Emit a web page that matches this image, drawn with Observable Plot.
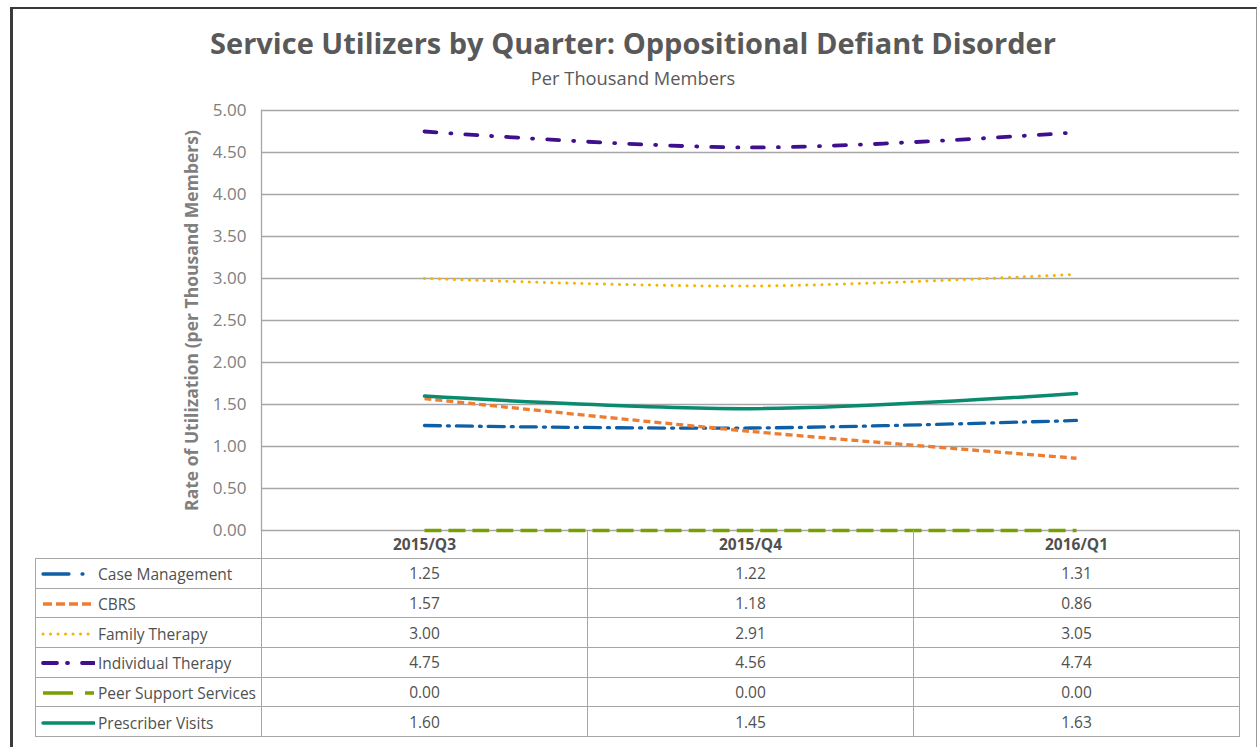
<!DOCTYPE html>
<html><head><meta charset="utf-8">
<script src="https://cdn.jsdelivr.net/npm/d3@7"></script>
<script src="https://cdn.jsdelivr.net/npm/@observablehq/plot@0.6"></script>
<style>
body{margin:0;background:#fff;font-family:"Open Sans",Lato,sans-serif;}
#page{position:relative;width:1257px;height:747px;overflow:hidden;background:#fff;}
#border{position:absolute;left:10px;top:7px;width:1243px;height:760px;border-left:3px solid #3a3a3a;border-top:2px solid #3a3a3a;border-right:1px solid #9a9a9a;}
#title{position:absolute;left:0;width:1266px;top:24px;text-align:center;font-weight:700;font-size:29px;color:#595959;line-height:38px;}
#subtitle{position:absolute;left:0;width:1266px;top:67px;text-align:center;font-size:18.3px;color:#595959;line-height:22px;}
#chart{position:absolute;left:0;top:100px;}
#tbl{position:absolute;left:35px;top:530px;border-collapse:collapse;table-layout:fixed;font-size:15.5px;color:#505050;}
#tbl td{border:1px solid #a6a6a6;padding:0;text-align:center;height:28.7px;line-height:18px;white-space:nowrap;overflow:hidden;}
#tbl tr.head td{font-weight:700;height:28px;border-top:none;}
#tbl tr.head td.blank{border:none;border-right:1px solid #a6a6a6;}
#tbl td.lab{text-align:left;padding-left:5px;}
#tbl td.lab svg{vertical-align:middle;margin-right:3px;}
#tbl td.lab span{vertical-align:middle;}
</style></head>
<body><div id="page"><div id="border"></div>
<div id="title">Service Utilizers by Quarter: Oppositional Defiant Disorder</div>
<div id="subtitle">Per Thousand Members</div>
<div id="chart"></div>
<table id="tbl"></table>
</div>
<script>
const quarters = ["2015/Q3", "2015/Q4", "2016/Q1"];
const seriesNames = ["Case Management", "CBRS", "Family Therapy", "Individual Therapy", "Peer Support Services", "Prescriber Visits"];
const caseManagement = [1.25, 1.22, 1.31];
const cbrs = [1.57, 1.18, 0.86];
const familyTherapy = [3.00, 2.91, 3.05];
const individualTherapy = [4.75, 4.56, 4.74];
const peerSupport = [0.00, 0.00, 0.00];
const prescriberVisits = [1.60, 1.45, 1.63];
const yTicks = [0, 0.5, 1, 1.5, 2, 2.5, 3, 3.5, 4, 4.5, 5];
const yLabel = "Rate of Utilization (per Thousand Members)";

const seriesValues = [caseManagement, cbrs, familyTherapy, individualTherapy, peerSupport, prescriberVisits];
const colors = ["#0f5fa6", "#ed7d31", "#f5b400", "#3f0f8e", "#7a9f00", "#0a8a6e"];
const styles = [
  {width: 3.3, dash: "16,7,2,7", cap: "round"},
  {width: 3.3, dash: "7,4", cap: "butt"},
  {width: 3, dash: "0.1,7.4", cap: "round"},
  {width: 3.8, dash: "12,14,1,14", cap: "round"},
  {width: 3.5, dash: "17,7", cap: "butt"},
  {width: 3.5, dash: null, cap: "round"}
];
const swatchDash = ["26,13,1,14", "9,4", "0.1,7.4", "14,10,1,14", "30,12,10,4", null];

const data = [];
seriesNames.forEach((s, i) => quarters.forEach((q, j) => data.push({series: s, quarter: q, value: seriesValues[i][j]})));

const lineMarks = seriesNames.map((s, i) => Plot.line(data.filter(d => d.series === s), {
  x: "quarter", y: "value", stroke: colors[i], strokeWidth: styles[i].width,
  strokeDasharray: styles[i].dash || undefined, strokeLinecap: styles[i].cap, curve: "catmull-rom"
}));

const chart = Plot.plot({
  width: 1257, height: 440,
  marginLeft: 261, marginRight: 18, marginTop: 10, marginBottom: 10,
  style: {fontFamily: "'Open Sans', Lato, sans-serif", fontSize: "16px", color: "#7f7f7f", background: "transparent", overflow: "visible"},
  x: {type: "point", domain: quarters, padding: 0.5, axis: null},
  y: {domain: [0, 5], axis: null},
  marks: [
    Plot.ruleY(yTicks, {stroke: "#a6a6a6", strokeWidth: 1.3}),
    Plot.frame({anchor: "left", stroke: "#a6a6a6", strokeWidth: 1.3}),
    Plot.axisY({ticks: yTicks, tickFormat: d => d.toFixed(2), tickSize: 0, tickPadding: 15, label: null, fill: "#808080", fontSize: 17}),
    Plot.text([yLabel], {frameAnchor: "left", textAnchor: "middle", rotate: -90, dx: -69, fontWeight: "bold", fontSize: 17.5, fill: "#7f7f7f"}),
    ...lineMarks
  ]
});
document.getElementById("chart").appendChild(chart);

// data table
const tbl = document.getElementById("tbl");
const cg = document.createElement("colgroup");
[226, 326, 326, 326].forEach(w => { const c = document.createElement("col"); c.style.width = w + "px"; cg.appendChild(c); });
tbl.appendChild(cg);
const head = document.createElement("tr"); head.className = "head";
const blank = document.createElement("td"); blank.className = "blank"; head.appendChild(blank);
quarters.forEach(q => { const td = document.createElement("td"); td.textContent = q; head.appendChild(td); });
tbl.appendChild(head);
const NS = "http://www.w3.org/2000/svg";
seriesNames.forEach((s, i) => {
  const tr = document.createElement("tr");
  const lab = document.createElement("td"); lab.className = "lab";
  const sw = document.createElementNS(NS, "svg"); sw.setAttribute("width", 54); sw.setAttribute("height", 10);
  const ln = document.createElementNS(NS, "line");
  ln.setAttribute("x1", 2); ln.setAttribute("x2", 53); ln.setAttribute("y1", 5); ln.setAttribute("y2", 5);
  ln.setAttribute("stroke", colors[i]); ln.setAttribute("stroke-width", styles[i].width);
  if (swatchDash[i]) ln.setAttribute("stroke-dasharray", swatchDash[i]);
  ln.setAttribute("stroke-linecap", styles[i].cap);
  sw.appendChild(ln); lab.appendChild(sw);
  const sp = document.createElement("span"); sp.textContent = s; lab.appendChild(sp);
  tr.appendChild(lab);
  seriesValues[i].forEach(v => { const td = document.createElement("td"); td.textContent = v.toFixed(2); tr.appendChild(td); });
  tbl.appendChild(tr);
});
</script>
</body></html>
